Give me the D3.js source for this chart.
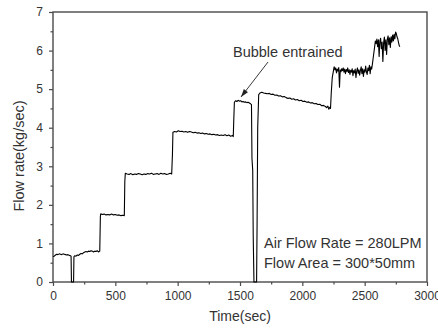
<!DOCTYPE html>
<html>
<head>
<meta charset="utf-8">
<script src="https://cdn.jsdelivr.net/npm/d3@7"></script>
<style>
  body { margin: 0; background: #fff; }
  svg text { font-family: "Liberation Sans", Arial, sans-serif; }
</style>
</head>
<body>
<div id="chart"></div>
<script>
"use strict";

// time (sec) and flow rate (kg/sec)
var timeSec = [
  0, 10, 20, 30, 40, 50, 60, 70, 80, 90, 100, 110, 120, 130, 140, 145,
  148, 165, 168,
  175, 185, 195, 205, 215, 225, 235, 245, 255, 265, 275, 285, 295, 305, 315, 325, 335, 345, 355, 365, 375,
  380, 383,
  395, 410, 425, 440, 455, 470, 485, 500, 515, 530, 545, 560, 572,
  576, 580,
  595, 610, 625, 640, 655, 670, 685, 700, 715, 730, 745, 760, 775, 790, 805, 820, 835, 850, 865, 880, 895, 910, 925, 940, 952,
  958, 962,
  975, 990, 1005, 1020, 1035, 1050, 1065, 1080, 1095, 1110, 1125, 1140, 1155, 1170, 1185, 1200, 1215, 1230, 1245, 1260,
  1275, 1290, 1305, 1320, 1335, 1350, 1365, 1380, 1395, 1410, 1425, 1440, 1446,
  1450, 1455,
  1465, 1475, 1485, 1495, 1505, 1515, 1525, 1535, 1545, 1555, 1565, 1575, 1585, 1592,
  1596, 1602, 1606, 1612, 1633, 1637, 1642, 1650,
  1660, 1675, 1690, 1705, 1720, 1735, 1750, 1765, 1780, 1795, 1810, 1825, 1840, 1855, 1870, 1885, 1900, 1915, 1930, 1945,
  1960, 1975, 1990, 2005, 2020, 2035, 2050, 2065, 2080, 2095, 2110, 2125, 2140, 2155, 2170, 2185, 2195, 2205, 2212, 2220, 2226,
  2232, 2240, 2248, 2255,
  2262, 2268, 2274, 2280, 2286, 2292, 2298, 2304, 2310, 2316, 2322, 2328, 2334, 2340, 2346, 2352, 2358, 2364, 2370, 2376,
  2382, 2388, 2394, 2400, 2406, 2412, 2418, 2424, 2430, 2436, 2442, 2448, 2454, 2460, 2466, 2472, 2478, 2484, 2490, 2496,
  2502, 2508, 2514, 2520, 2526, 2532, 2538, 2544, 2550, 2556, 2562,
  2568, 2574, 2580, 2586,
  2592, 2598, 2604, 2610, 2616, 2622, 2628, 2634, 2640, 2646, 2652, 2658, 2664, 2670, 2676, 2682, 2688, 2694, 2700, 2706,
  2712, 2718, 2724, 2730, 2736, 2742, 2748, 2754, 2760, 2766, 2772, 2778, 2783
];

var flowRate = [
  0.66, 0.67, 0.70, 0.72, 0.71, 0.73, 0.72, 0.71, 0.73, 0.72, 0.71, 0.70, 0.71, 0.69, 0.68, 0.67,
  0.0, 0.0, 0.66,
  0.68, 0.67, 0.70, 0.69, 0.72, 0.74, 0.73, 0.76, 0.78, 0.79, 0.78, 0.80, 0.79, 0.81, 0.80, 0.78, 0.80, 0.79, 0.81, 0.78, 0.80,
  1.70, 1.77,
  1.75, 1.76, 1.74, 1.75, 1.74, 1.76, 1.74, 1.75, 1.73, 1.74, 1.72, 1.73, 1.72,
  2.60, 2.82,
  2.80, 2.79, 2.81, 2.78, 2.80, 2.79, 2.81, 2.80, 2.78, 2.80, 2.79, 2.81, 2.80, 2.82, 2.79, 2.80, 2.81, 2.79, 2.82, 2.80, 2.81, 2.79, 2.80, 2.82, 2.80,
  3.30, 3.88,
  3.90, 3.89, 3.92, 3.90, 3.91, 3.89, 3.90, 3.88, 3.90, 3.89, 3.87, 3.88, 3.86, 3.87, 3.85, 3.86, 3.84, 3.85, 3.83, 3.84,
  3.82, 3.83, 3.81, 3.82, 3.80, 3.81, 3.80, 3.82, 3.79, 3.81, 3.78, 3.80, 3.77,
  4.20, 4.66,
  4.70, 4.68, 4.71, 4.69, 4.70, 4.67, 4.68, 4.66, 4.67, 4.65, 4.66, 4.64, 4.62, 4.60,
  3.20, 2.90, 1.20, 0.0, 0.0, 1.50, 4.00, 4.86,
  4.90, 4.92, 4.90, 4.89, 4.88, 4.89, 4.86, 4.87, 4.84, 4.85, 4.82, 4.83, 4.80, 4.81, 4.78, 4.76, 4.77, 4.74, 4.75, 4.72,
  4.73, 4.70, 4.71, 4.68, 4.69, 4.66, 4.67, 4.64, 4.65, 4.62, 4.63, 4.60, 4.61, 4.57, 4.58, 4.55, 4.52, 4.56, 4.48, 4.53, 4.50,
  4.90, 5.30, 5.45, 5.58,
  5.50, 5.55, 5.42, 5.52, 5.47, 5.56, 5.05, 5.50, 5.45, 5.53, 5.48, 5.55, 5.44, 5.52, 5.40, 5.51, 5.46, 5.55, 5.43, 5.50,
  5.38, 5.49, 5.44, 5.53, 5.35, 5.48, 5.42, 5.52, 5.30, 5.47, 5.55, 5.41, 5.50, 5.36, 5.49, 5.58, 5.40, 5.53, 5.33, 5.50,
  5.44, 5.60, 5.45, 5.38, 5.55, 5.48, 5.62, 5.40, 5.58, 5.52, 5.65,
  5.80, 5.95, 6.10, 6.25,
  6.18, 6.30, 6.10, 6.28, 5.85, 6.25, 6.32, 6.05, 6.22, 5.72, 6.20, 6.35, 6.00, 6.28, 5.90, 6.30, 6.38, 6.15, 6.33, 6.08,
  6.36, 6.22, 6.40, 6.25, 6.42, 6.30, 6.48, 6.44, 6.35, 6.30, 6.20, 6.12, 6.10
];

var xTicks = [0, 500, 1000, 1500, 2000, 2500, 3000];
var xMinorTicks = [250, 750, 1250, 1750, 2250, 2750];
var yTicks = [0, 1, 2, 3, 4, 5, 6, 7];
var yMinorTicks = [0.5, 1.5, 2.5, 3.5, 4.5, 5.5, 6.5];

var noteLines = ["Air Flow Rate = 280LPM", "Flow Area = 300*50mm"];

var width = 438;
var height = 328;
var plotLeft = 53, plotRight = 427, plotTop = 12, plotBottom = 282;
var frameColor = "#4a4a4a";
var textColor = "#333";

var svg = d3.select("#chart").append("svg")
  .attr("width", width)
  .attr("height", height);

var x = d3.scaleLinear().domain([0, 3000]).range([plotLeft, plotRight]);
var y = d3.scaleLinear().domain([0, 7]).range([plotBottom, plotTop]);

// bottom axis with minor ticks
var gx = svg.append("g").attr("transform", "translate(0," + plotBottom + ")");
gx.call(d3.axisBottom(x).tickValues(xTicks).tickSize(4).tickPadding(5).tickFormat(d3.format("d")));
gx.append("g").call(d3.axisBottom(x).tickValues(xMinorTicks).tickSize(2.5).tickFormat(""));

var gy = svg.append("g").attr("transform", "translate(" + plotLeft + ",0)");
gy.call(d3.axisLeft(y).tickValues(yTicks).tickSize(4).tickPadding(6).tickFormat(d3.format("d")));
gy.append("g").call(d3.axisLeft(y).tickValues(yMinorTicks).tickSize(2.5).tickFormat(""));

svg.selectAll(".domain").remove();
svg.selectAll(".tick line").attr("stroke", frameColor).attr("stroke-width", 1.2);
svg.selectAll(".tick text")
  .attr("fill", textColor)
  .style("font-size", "12px")
  .style("font-family", "'Liberation Sans', Arial, sans-serif");

// frame
svg.append("rect")
  .attr("x", plotLeft)
  .attr("y", plotTop)
  .attr("width", plotRight - plotLeft)
  .attr("height", plotBottom - plotTop)
  .attr("fill", "none")
  .attr("stroke", frameColor)
  .attr("stroke-width", 1.4);

// the trace
var line = d3.line()
  .x(function(d, i){ return x(timeSec[i]); })
  .y(function(d){ return y(d); });

svg.append("path")
  .datum(flowRate)
  .attr("d", line)
  .attr("fill", "none")
  .attr("stroke", "#000")
  .attr("stroke-width", 1.1)
  .attr("stroke-linejoin", "round");

// axis titles
svg.append("text")
  .text("Time(sec)")
  .attr("x", (plotLeft + plotRight) / 2)
  .attr("y", 321)
  .attr("text-anchor", "middle")
  .attr("fill", textColor)
  .style("font-size", "14px");

svg.append("text")
  .text("Flow rate(kg/sec)")
  .attr("transform", "translate(24,156) rotate(-90)")
  .attr("text-anchor", "middle")
  .attr("fill", textColor)
  .style("font-size", "14.5px");

// annotation
svg.append("text")
  .text("Bubble entrained")
  .attr("x", 233)
  .attr("y", 57)
  .attr("fill", textColor)
  .style("font-size", "14.5px");

var ax0 = 268, ay0 = 62, ax1 = 241, ay1 = 97;
svg.append("line")
  .attr("x1", ax0).attr("y1", ay0)
  .attr("x2", ax1).attr("y2", ay1)
  .attr("stroke", "#222")
  .attr("stroke-width", 0.9);

var ang = Math.atan2(ay1 - ay0, ax1 - ax0);
var headLen = 8, headW = 2.6;
var bx = ax1 - headLen * Math.cos(ang), by = ay1 - headLen * Math.sin(ang);
svg.append("path")
  .attr("d", "M" + ax1 + "," + ay1 +
    "L" + (bx + headW * Math.sin(ang)) + "," + (by - headW * Math.cos(ang)) +
    "L" + (bx - headW * Math.sin(ang)) + "," + (by + headW * Math.cos(ang)) + "Z")
  .attr("fill", "#222");

svg.selectAll(".note")
  .data(noteLines)
  .enter()
    .append("text")
      .attr("class", "note")
      .text(function(d){ return d; })
      .attr("x", 264)
      .attr("y", function(d, i){ return 248 + i * 19.5; })
      .attr("fill", textColor)
      .style("font-size", "14.5px");
</script>
</body>
</html>
